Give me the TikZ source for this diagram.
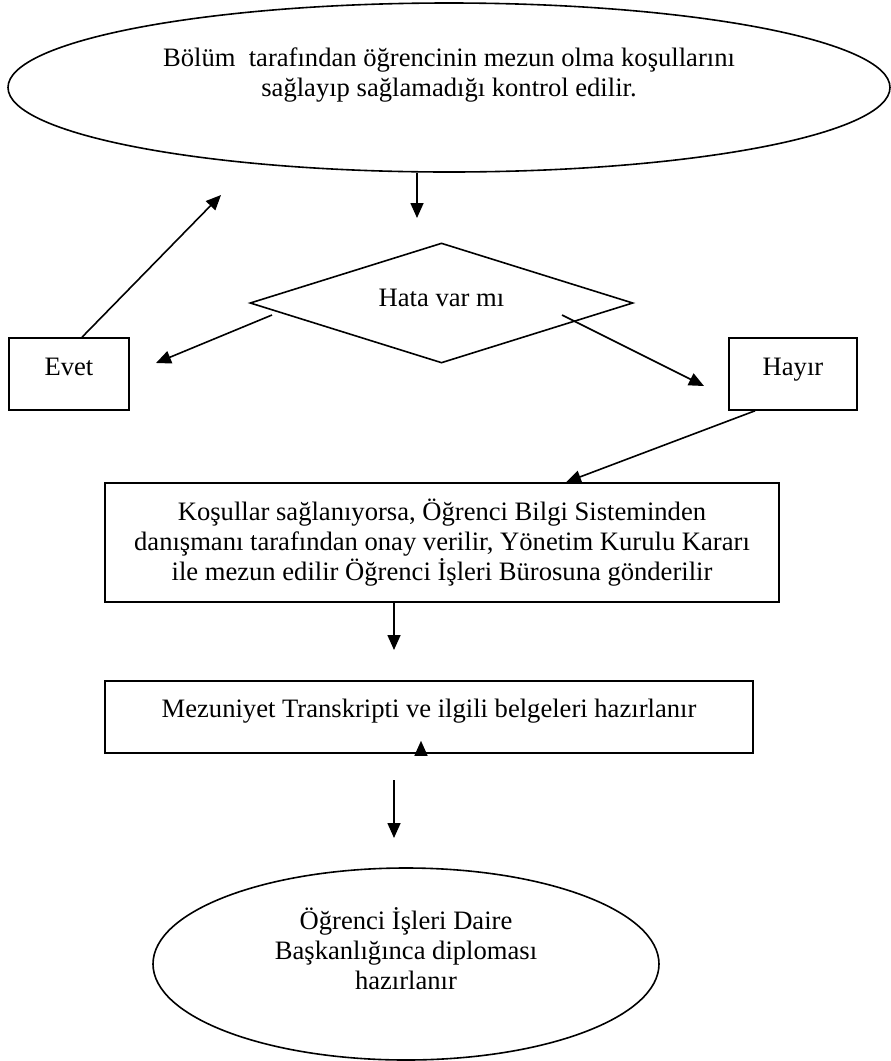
\documentclass[tikz,border=0pt,12pt]{standalone}
\usepackage{fontspec}
\setmainfont{Liberation Serif}
\usetikzlibrary{arrows.meta,shapes.geometric}

\begin{document}
\begin{tikzpicture}[x=0.5pt, y=-0.5pt, line width=0.8pt,
  >={Triangle[length=7.5pt,width=6.5pt]},
  every node/.style={font=\fontsize{13.3}{15}\selectfont, align=center, inner sep=0pt},
  oval/.style={ellipse, draw},
  kutu/.style={rectangle, draw}]
  \useasboundingbox (0,0) rectangle (890,1061);

  \node[oval, minimum width=441pt, minimum height=84.5pt] (kontrol) at (449,87.5) {Bölüm\ \ tarafından öğrencinin mezun olma koşullarını\\ sağlayıp sağlamadığı kontrol edilir.\\ \mbox{}};
  \node[diamond, draw, aspect=3.19, minimum width=191.5pt, minimum height=60pt, text height=8pt, text depth=5pt] (hata) at (441.5,303) {Hata var mı};
  \node[kutu, minimum width=60pt, minimum height=36pt, text height=8pt, text depth=7pt] (evet) at (69,374) {Evet};
  \node[kutu, minimum width=64pt, minimum height=36pt, text height=8pt, text depth=7pt] (hayir) at (793,374) {Hayır};
  \node[kutu, minimum width=337pt, minimum height=59.5pt] (kosul) at (442,542.5) {Koşullar sağlanıyorsa, Öğrenci Bilgi Sisteminden\\ danışmanı tarafından onay verilir, Yönetim Kurulu Kararı\\ ile mezun edilir Öğrenci İşleri Bürosuna gönderilir};
  \node[kutu, minimum width=324pt, minimum height=36pt, text height=8pt, text depth=8pt] (mezun) at (429,717) {Mezuniyet Transkripti ve ilgili belgeleri hazırlanır};
  \node[oval, minimum width=253pt, minimum height=96pt] (diploma) at (406,964) {Öğrenci İşleri Daire\\ Başkanlığınca diploması\\ hazırlanır\\ \mbox{}};

  \coordinate (ok1) at (417,218);
  \coordinate (geri) at (221,195);
  \coordinate (solBas) at (272,315);
  \coordinate (solSon) at (156,363);
  \coordinate (sagBas) at (562,315);
  \coordinate (sagSon) at (704,386);
  \coordinate (ok2) at (394,650);
  \coordinate (ok3bas) at (394,780);
  \coordinate (ok3son) at (394,838);

  \draw[->] (ok1 |- kontrol.south) -- (ok1);
  \draw[->] ([xshift=6.5pt]evet.north) -- (geri);
  \draw[->] (solBas) -- (solSon);
  \draw[->] (sagBas) -- (sagSon);
  \draw[->] ([xshift=-19pt]hayir.south) -- ([xshift=62pt]kosul.north);
  \draw[->] (ok2 |- kosul.south) -- (ok2);
  \draw[->] ([xshift=-4pt]mezun.south) -- ([xshift=-4pt,yshift=6.5pt]mezun.south);
  \draw[->] (ok3bas) -- (ok3son);
\end{tikzpicture}
\end{document}
